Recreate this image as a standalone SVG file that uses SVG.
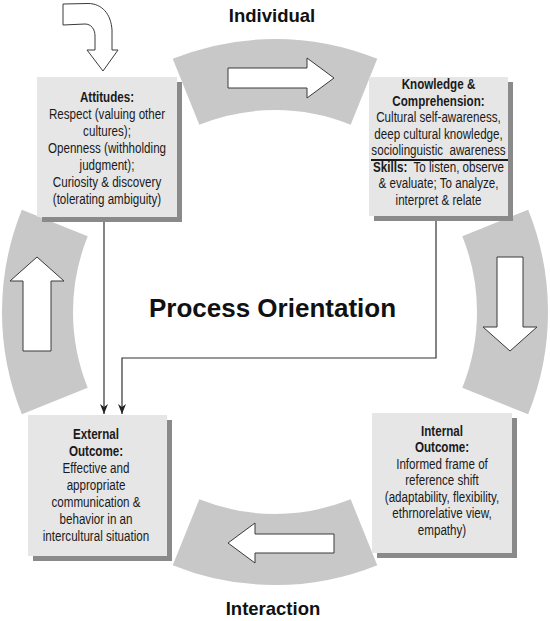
<svg xmlns="http://www.w3.org/2000/svg" width="550" height="621" viewBox="0 0 550 621">
<style>
.band{fill:#c8c8c8}
.barrow{fill:#ffffff;stroke:#3a3a3a;stroke-width:1}
.shadow{fill:#8a8a8a}
.box{fill:#e6e6e6}
.t{font-family:"Liberation Sans",Arial,sans-serif;font-size:15px;fill:#1a1a1a;text-anchor:middle}
.b{font-weight:bold}
.title{font-family:"Liberation Sans",Arial,sans-serif;font-weight:bold;fill:#111;text-anchor:middle}
.conn{fill:none;stroke:#333;stroke-width:1.2}
</style>
<defs>
<marker id="ah" markerUnits="userSpaceOnUse" markerWidth="10" markerHeight="10" viewBox="0 0 10 10" refX="10" refY="5" orient="auto">
<path d="M0,1 L10,5 L0,9 L3,5 Z" fill="#222"/>
</marker>
</defs>
<rect width="550" height="621" fill="#ffffff"/>
<g id="ring">
<path class="band" d="M172.73,58.87 A273,273 0 0 1 377.27,58.87 L350.67,124.71 A202,202 0 0 0 199.33,124.71 Z"/>
<path class="band" d="M528.13,209.73 A273,273 0 0 1 528.13,414.27 L462.29,387.67 A202,202 0 0 0 462.29,236.33 Z"/>
<path class="band" d="M377.27,565.13 A273,273 0 0 1 172.73,565.13 L199.33,499.29 A202,202 0 0 0 350.67,499.29 Z"/>
<path class="band" d="M21.87,414.27 A273,273 0 0 1 21.87,209.73 L87.71,236.33 A202,202 0 0 0 87.71,387.67 Z"/>
<path class="barrow" d="M228,68 L307,68 L307,58 L334,78 L307,98 L307,88 L228,88 Z"/>
<path class="barrow" d="M497,257 L523,257 L523,327 L537,327 L510,351 L483,327 L497,327 Z"/>
<path class="barrow" d="M334,534 L334,553 L255,553 L255,563 L228,543 L255,523 L255,534 Z"/>
<path class="barrow" d="M23,351 L23,281 L10,281 L37,257 L64,281 L51,281 L51,351 Z"/>
</g>
<g id="entry-arrow">
<path class="barrow" d="M63,4 L88,3.5 C102,3.5 111,14 112,30 L112,50 L118,50 L103,71 L87,50 L95,50 L95,36 C95,29 91,24 85,24 L63,25 Z"/>
</g>
<text class="title" x="272" y="22" font-size="18.5">Individual</text>
<text class="title" x="273" y="615" font-size="18.5">Interaction</text>
<text class="title" x="272.5" y="317" font-size="26">Process Orientation</text>
<g id="connectors">
<path class="conn" d="M104,217 V414" marker-end="url(#ah)"/>
<path class="conn" d="M436,217 V358 H122 V414" marker-end="url(#ah)"/>
</g>
<g id="attitudes">
<rect class="shadow" x="42" y="82" width="140" height="140"/>
<rect class="box" x="37" y="77" width="140" height="140"/>
<g transform="translate(107,0) scale(0.775,1)">
<text class="t b" x="0" y="102">Attitudes:</text>
<text class="t" x="0" y="119">Respect (valuing other</text>
<text class="t" x="0" y="136">cultures);</text>
<text class="t" x="0" y="153">Openness (withholding</text>
<text class="t" x="0" y="170">judgment);</text>
<text class="t" x="0" y="187">Curiosity &amp; discovery</text>
<text class="t" x="0" y="204">(tolerating ambiguity)</text>
</g>
</g>
<g id="knowledge">
<rect class="shadow" x="374" y="82" width="139" height="139"/>
<rect class="box" x="369" y="77" width="139" height="139"/>
<g transform="translate(438.5,0) scale(0.775,1)">
<text class="t b" x="0" y="89.5">Knowledge &amp;</text>
<text class="t b" x="0" y="106">Comprehension:</text>
<text class="t" x="0" y="122.5">Cultural self-awareness,</text>
<text class="t" x="0" y="139">deep cultural knowledge,</text>
<text class="t" x="0" y="155.5" style="white-space:pre">sociolinguistic  awareness</text>
<text class="t" x="0" y="172" style="white-space:pre"><tspan class="b">Skills:</tspan>  To listen, observe</text>
<text class="t" x="0" y="188.5">&amp; evaluate; To analyze,</text>
<text class="t" x="0" y="205">interpret &amp; relate</text>
</g>
<line x1="371" y1="160" x2="508" y2="160" stroke="#1a1a1a" stroke-width="2"/>
</g>
<g id="external">
<rect class="shadow" x="33" y="420" width="139" height="141"/>
<rect class="box" x="28" y="415" width="139" height="141"/>
<g transform="translate(96,0) scale(0.775,1)">
<text class="t b" x="0" y="439">External</text>
<text class="t b" x="0" y="456">Outcome:</text>
<text class="t" x="0" y="473">Effective and</text>
<text class="t" x="0" y="490">appropriate</text>
<text class="t" x="0" y="507">communication &amp;</text>
<text class="t" x="0" y="524">behavior in an</text>
<text class="t" x="0" y="541">intercultural situation</text>
</g>
</g>
<g id="internal">
<rect class="shadow" x="377" y="418" width="140" height="140"/>
<rect class="box" x="372" y="413" width="140" height="140"/>
<g transform="translate(442,0) scale(0.775,1)">
<text class="t b" x="0" y="436">Internal</text>
<text class="t b" x="0" y="452.5">Outcome:</text>
<text class="t" x="0" y="469">Informed frame of</text>
<text class="t" x="0" y="485.5">reference shift</text>
<text class="t" x="0" y="502">(adaptability, flexibility,</text>
<text class="t" x="0" y="518.5">ethrnorelative view,</text>
<text class="t" x="0" y="535">empathy)</text>
</g>
</g>
</svg>
